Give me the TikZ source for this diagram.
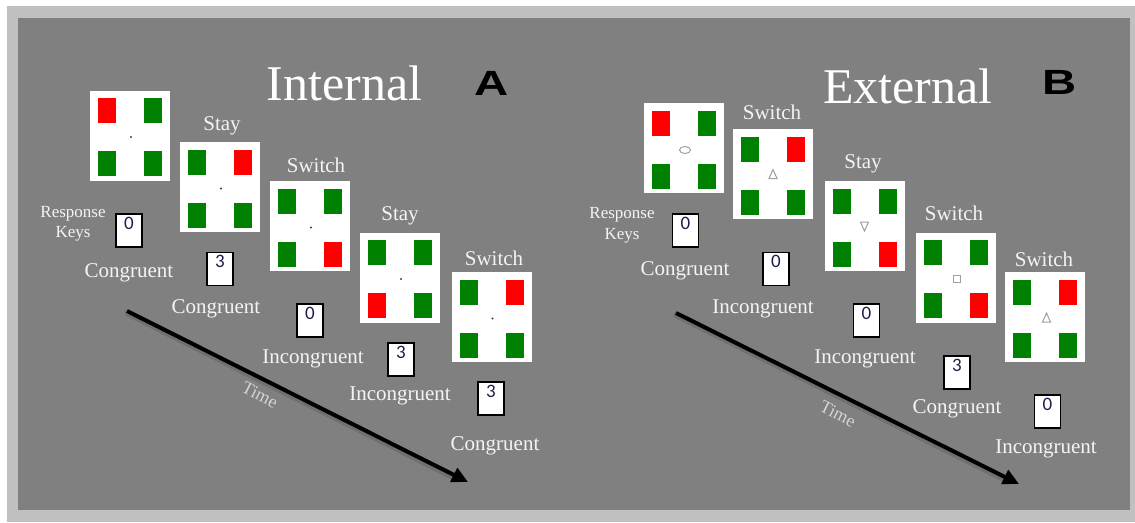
\documentclass[tikz,border=0pt]{standalone}
\usepackage{fontspec}
\setmainfont{Liberation Serif}
\newfontfamily\labelfont{Liberation Serif}
\newfontfamily\digitfont{Carlito}
\newfontfamily\letterfont{Liberation Sans}
\usetikzlibrary{arrows.meta,calc,shadows}

\definecolor{panelgray}{HTML}{808080}
\definecolor{framegray}{HTML}{C0C0C0}
\definecolor{keyred}{HTML}{FF0000}
\definecolor{keygreen}{HTML}{008000}
\definecolor{labelwhite}{HTML}{F4F4F4}
\definecolor{timegray}{HTML}{D4D4D4}
\definecolor{digitblue}{HTML}{1E1E4A}
\definecolor{cuegray}{HTML}{A0A0A0}
\definecolor{dotgray}{HTML}{404040}

\tikzset{
  card/.style={fill=white, draw=none, minimum width=80pt, minimum height=90pt, inner sep=0pt},
  cue/.style={draw=cuegray, line width=1pt},
  keybox/.style={fill=white, draw=black, line width=1.6pt, minimum width=26pt, minimum height=33pt,
    inner sep=0pt, drop shadow={shadow xshift=1.5pt, shadow yshift=-1.8pt, opacity=0.35}},
  digit/.style={text=digitblue, font=\digitfont\fontsize{19}{19}\selectfont, inner sep=0pt, anchor=north},
  lab/.style={text=labelwhite, font=\labelfont\fontsize{21}{24}\selectfont, inner sep=0pt, anchor=base},
  resp/.style={text=labelwhite, font=\labelfont\fontsize{17}{20}\selectfont, inner sep=0pt, anchor=base},
  title/.style={text=white, font=\labelfont\fontsize{50}{56}\selectfont, inner sep=0pt, anchor=base},
  panelletter/.style={text=black, font=\letterfont\bfseries\fontsize{35}{38}\selectfont, inner sep=0pt, anchor=base},
  timelabel/.style={text=timegray, font=\labelfont\fontsize{18}{20}\selectfont, inner sep=0pt, rotate=-26.6},
  timeshadow/.style={draw=black, opacity=0.12, line width=7pt, line cap=round},
  timearrow/.style={draw=black, line width=4pt, -{Triangle[length=16pt,width=15pt]}}
}

% stimulus card: name, x, y, colours of the four keys (top left, top right, bottom left, bottom right)
\newcommand\stimcard[7]{%
  \node[card] (#1) at (#2,#3) {};
  \begin{scope}[shift={(#1.center)}]
    \fill[#4] (-32,-37.5) rectangle (-14,-12.5);
    \fill[#5] (14,-37.5) rectangle (32,-12.5);
    \fill[#6] (-32,15.5) rectangle (-14,40.5);
    \fill[#7] (14,15.5) rectangle (32,40.5);
  \end{scope}}

% response key box with its digit
\newcommand\respkey[4]{%
  \node[keybox] (#1) at (#2,#3) {};
  \node[digit] (#1-d) at ($(#1.north)+(0,3.5)$) {#4};}

\begin{document}
\begin{tikzpicture}[x=1pt, y=-1pt]
\useasboundingbox (0,0) rectangle (1135,522);
\fill[white] (0,0) rectangle (1135,522);
\fill[framegray] (7,6) rectangle (1135,522);
\fill[panelgray] (18,18) rectangle (1130,510);

% ---------------- Panel A: internal cue ----------------
\node[title] (tA) at (344.5,100) {Internal};
\node[panelletter] (lA) at (492,95) {\scalebox{1.35}[1]{A}};

\stimcard{a1}{130}{135.5}{keyred}{keygreen}{keygreen}{keygreen}
\stimcard{a2}{220}{187}{keygreen}{keyred}{keygreen}{keygreen}
\stimcard{a3}{310}{226}{keygreen}{keygreen}{keygreen}{keyred}
\stimcard{a4}{400}{277.5}{keygreen}{keygreen}{keyred}{keygreen}
\stimcard{a5}{491.5}{317}{keygreen}{keyred}{keygreen}{keygreen}
\foreach \c in {a1,a2,a3,a4,a5} \fill[dotgray] ($(\c.center)+(1,1.5)$) circle (1.2);

\node[lab] (sa2) at (222,130) {Stay};
\node[lab] (sa3) at (316,172) {Switch};
\node[lab] (sa4) at (400,220) {Stay};
\node[lab] (sa5) at (494,265) {Switch};

\node[resp] (rA1) at (73,217) {Response};
\node[resp] (rA2) at (73,237) {Keys};

\respkey{ka1}{129}{230.5}{0}
\respkey{ka2}{220}{269}{3}
\respkey{ka3}{310}{320.5}{0}
\respkey{ka4}{401}{359.5}{3}
\respkey{ka5}{491}{398.5}{3}

\node[lab] (ca1) at (129,277) {Congruent};
\node[lab] (ca2) at (216,313) {Congruent};
\node[lab] (ca3) at (313,363) {Incongruent};
\node[lab] (ca4) at (400,400) {Incongruent};
\node[lab] (ca5) at (495,450) {Congruent};

\coordinate (ta0) at (127,311);
\coordinate (ta1) at (468,482);
\draw[timeshadow] ($(ta0)+(1,2)$) -- ($(ta1)+(-10,-3)$);
\draw[timearrow] (ta0) -- (ta1);
\node[timelabel] (timeA) at (260,395) {Time};

% ---------------- Panel B: external cue ----------------
\node[title] (tB) at (908,103) {External};
\node[panelletter] (lB) at (1060,94) {\scalebox{1.35}[1]{B}};

\stimcard{b1}{683.5}{148}{keyred}{keygreen}{keygreen}{keygreen}
\stimcard{b2}{773}{174}{keygreen}{keyred}{keygreen}{keygreen}
\stimcard{b3}{864.5}{226}{keygreen}{keygreen}{keygreen}{keyred}
\stimcard{b4}{955.5}{277.5}{keygreen}{keygreen}{keygreen}{keyred}
\stimcard{b5}{1045}{317}{keygreen}{keyred}{keygreen}{keygreen}

% task cues in the card centres
\draw[cue] ($(b1.center)+(1.5,2)$) ellipse (5.5 and 3.5);
\draw[cue] ($(b2.center)+(-4,4.5)$) -- ++(8,0) -- ++(-4,-9) -- cycle;
\draw[cue] ($(b3.center)+(-4,-4)$) -- ++(8,0) -- ++(-4,9) -- cycle;
\draw[cue] ($(b4.center)+(-2,-2.5)$) rectangle ++(7,7);
\draw[cue] ($(b5.center)+(-2.5,5)$) -- ++(8,0) -- ++(-4,-9) -- cycle;

\node[lab] (sb2) at (772,119) {Switch};
\node[lab] (sb3) at (863,168) {Stay};
\node[lab] (sb4) at (954,220) {Switch};
\node[lab] (sb5) at (1044,266) {Switch};

\node[resp] (rB1) at (622,218) {Response};
\node[resp] (rB2) at (622,239) {Keys};

\respkey{kb1}{685.5}{230.5}{0}
\respkey{kb2}{776}{269}{0}
\respkey{kb3}{866.5}{320.5}{0}
\respkey{kb4}{957}{372.5}{3}
\respkey{kb5}{1047.5}{411.5}{0}

\node[lab] (cb1) at (685,275) {Congruent};
\node[lab] (cb2) at (763,313) {Incongruent};
\node[lab] (cb3) at (865,363) {Incongruent};
\node[lab] (cb4) at (957,413) {Congruent};
\node[lab] (cb5) at (1046,453) {Incongruent};

\coordinate (tb0) at (676,313);
\coordinate (tb1) at (1019,484);
\draw[timeshadow] ($(tb0)+(1,2)$) -- ($(tb1)+(-10,-3)$);
\draw[timearrow] (tb0) -- (tb1);
\node[timelabel] (timeB) at (838,414) {Time};
\end{tikzpicture}
\end{document}
